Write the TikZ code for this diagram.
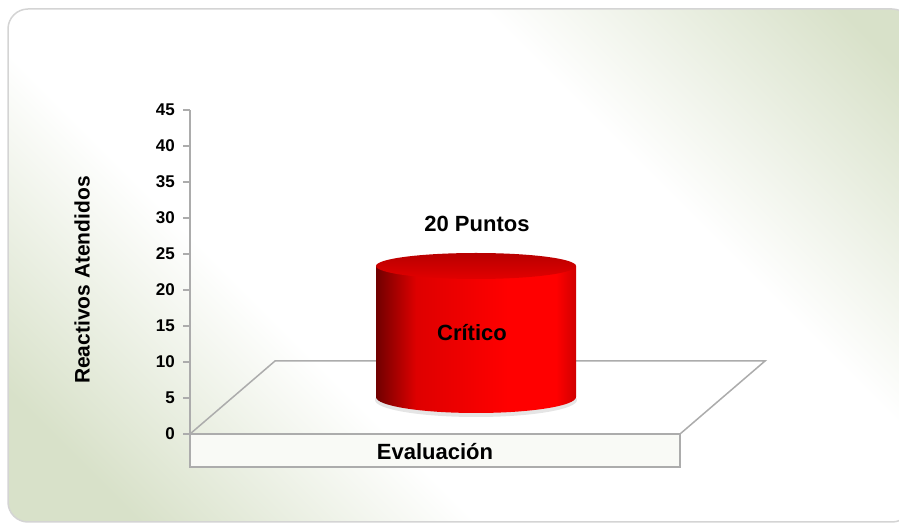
\documentclass[tikz,border=0pt]{standalone}
\usepackage{fontspec}
\setmainfont{Liberation Sans}
\usepackage{tikz}
\usetikzlibrary{shadings}

\definecolor{panelgreen}{RGB}{216,225,201}
\definecolor{panelline}{RGB}{212,212,212}
\definecolor{gridgray}{RGB}{172,172,172}
\definecolor{boxfill}{RGB}{249,250,246}
\definecolor{cyldark}{RGB}{112,0,0}
\definecolor{cylmid}{RGB}{222,0,0}
\definecolor{cylrim}{RGB}{208,0,0}
\definecolor{cyltop}{RGB}{184,0,0}
\definecolor{cyltopfront}{RGB}{226,0,0}

% panel background: green at two corners, a broad white band between
\pgfdeclareverticalshading{panelbg}{100bp}{color(0bp)=(panelgreen); color(21bp)=(panelgreen);
  color(38bp)=(white); color(64bp)=(white); color(82bp)=(panelgreen); color(100bp)=(panelgreen)}
% body of the bar: dark on the left, bright towards the right
\pgfdeclarehorizontalshading{cylbody}{100bp}{color(0bp)=(cyldark); color(25bp)=(cyldark);
  color(35bp)=(cylmid); color(58bp)=(red); color(70bp)=(red); color(75bp)=(cylrim); color(100bp)=(cylrim)}

\tikzstyle{ticklabel} = [anchor=east, inner sep=2pt, font=\fontsize{17}{20}\selectfont\bfseries]
\tikzstyle{chartlabel} = [font=\fontsize{22}{26}\selectfont\bfseries]
\tikzstyle{axisline} = [draw=gridgray, line width=1.5pt]

\begin{document}
\begin{tikzpicture}[x=1pt, y=1pt]
\useasboundingbox (0,0) rectangle (899,527);

% background panel
\begin{scope}
\clip (0,0) rectangle (899,527);
\shade[shading=panelbg, shading angle=-45, rounded corners=20pt] (8,5) rectangle (912,518);
\draw[panelline, line width=1.5pt, rounded corners=20pt] (8,5) rectangle (912,518);
\end{scope}

% value axis
\coordinate (origin) at (190,93);
\coordinate (axtop) at (190,417);
\draw[axisline] (origin) -- (axtop);
\foreach \v in {0,5,...,45} {
  \draw[axisline] (183,{93+\v*7.2}) -- (190,{93+\v*7.2});
  \node [ticklabel] at (177,{93+\v*7.2}) (tick\v) {\v};
}
\node [font=\fontsize{21}{24}\selectfont\bfseries, rotate=90] at (82,247) (ytitle) {Reactivos Atendidos};

% floor and category box
\coordinate (fl) at (190,93);
\coordinate (fr) at (680,93);
\coordinate (br) at (765,166);
\coordinate (bl) at (275,166);
\draw[axisline] (fl) -- (fr) -- (br) -- (bl) -- cycle;
\draw[axisline, fill=boxfill] (fl) rectangle (680,60);
\node [chartlabel] at (435,75) (evaluacion) {Evaluación};

% the bar
\fill[black, opacity=0.1] (476,127) ellipse [x radius=101, y radius=17];
\shade[shading=cylbody] (376,261) -- (376,130) arc[start angle=180, end angle=360, x radius=100, y radius=16] -- (576,261) -- cycle;
\shade[top color=cyltop, bottom color=cyltopfront] (476,261) ellipse [x radius=100, y radius=13];

\node [chartlabel] at (477,303) (puntos) {20 Puntos};
\node [chartlabel] at (472,194) (critico) {Crítico};
\end{tikzpicture}
\end{document}
